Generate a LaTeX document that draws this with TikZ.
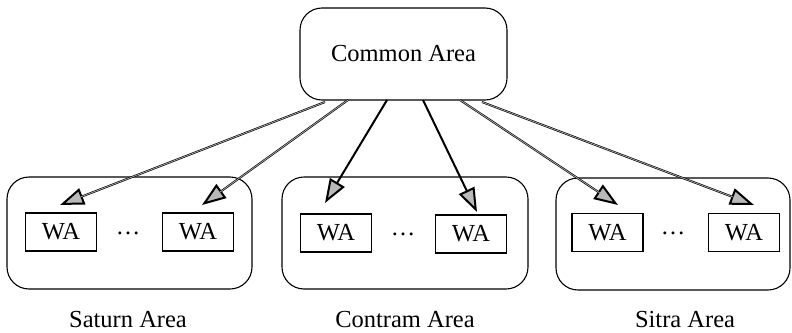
\documentclass[tikz,border=0pt]{standalone}
\usepackage{fontspec}
\setmainfont{Liberation Serif}
\usetikzlibrary{arrows.meta}
\begin{document}
\begin{tikzpicture}[x=1pt,y=-1pt,
  every node/.style={font=\fontsize{24.5}{28}\selectfont, inner sep=0pt},
  area/.style={draw, line width=1.1pt, rounded corners=22pt},
  wabox/.style={draw, line width=1.1pt, minimum width=71pt, minimum height=38pt},
  link/.style={line width=2pt, -{Triangle[length=24pt,width=17pt,fill=gray!55]}},
  shade/.style={gray!60, line width=0.7pt, shorten >=22pt},
  lbl/.style={anchor=base}]
  \useasboundingbox (0,0) rectangle (792,332);

  % top-level area
  \node[area, minimum width=207pt, minimum height=92pt] (ca) at (403.5,54) {Common Area};

  % the three regional areas
  \node[area, minimum width=245pt, minimum height=112pt] (sat) at (129.5,233) {};
  \node[area, minimum width=246pt, minimum height=112pt] (con) at (405,233) {};
  \node[area, minimum width=234pt, minimum height=112pt] (sit) at (673,234) {};

  % work areas
  \node[wabox] (w1) at (61,232) {WA};
  \node[wabox] (w2) at (198,232) {WA};
  \node[wabox] (w3) at (336,233) {WA};
  \node[wabox] (w4) at (471,234) {WA};
  \node[wabox] (w5) at (607.5,232.5) {WA};
  \node[wabox] (w6) at (744,232.5) {WA};

  \node (d1) at (128,233) {…};
  \node (d2) at (403,234) {…};
  \node (d3) at (673,233) {…};

  % area names
  \node[lbl] (l1) at (128,327) {Saturn Area};
  \node[lbl] (l2) at (405,327) {Contram Area};
  \node[lbl] (l3) at (685,327) {Sitra Area};

  % start points on the common area, arrow tips above the work areas
  \coordinate (p1) at (325,102);
  \coordinate (p2) at (348,100);
  \coordinate (p3) at (387,100);
  \coordinate (p4) at (423,100);
  \coordinate (p5) at (460,100);
  \coordinate (p6) at (482,102);
  \coordinate (t1) at (60,205);
  \coordinate (t2) at (202,205);
  \coordinate (t3) at (325,203);
  \coordinate (t4) at (477,212);
  \coordinate (t5) at (618,205);
  \coordinate (t6) at (754,205);

  \draw[link] (p1) -- (t1);
  \draw[link] (p2) -- (t2);
  \draw[link] (p3) -- (t3);
  \draw[link] (p4) -- (t4);
  \draw[link] (p5) -- (t5);
  \draw[link] (p6) -- (t6);
  \draw[shade] (p1) -- (t1);
  \draw[shade] (p2) -- (t2);
  \draw[shade] (p5) -- (t5);
  \draw[shade] (p6) -- (t6);
\end{tikzpicture}
\end{document}
